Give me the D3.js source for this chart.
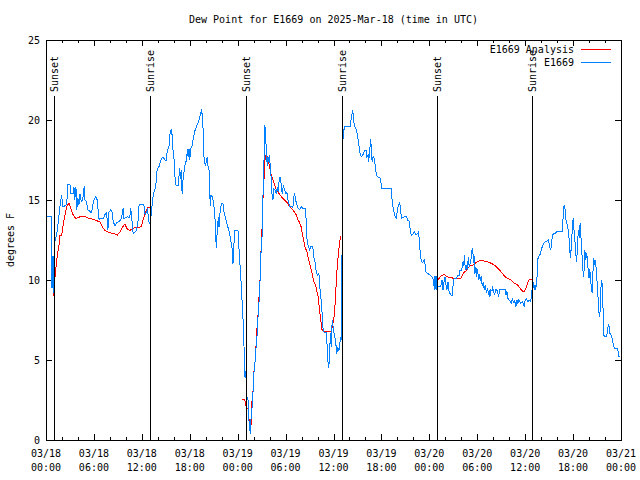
<!DOCTYPE html>
<html><head><meta charset="utf-8">
<script src="https://cdn.jsdelivr.net/npm/d3@7"></script>
<style>
body{margin:0;background:#fff}
text{font-family:"DejaVu Sans Mono",monospace;font-size:10px;fill:#000}
</style>
</head><body><svg id="c" width="640" height="480"></svg>
<script>
const title = "Dew Point for E1669 on 2025-Mar-18 (time in UTC)";
const yLabel = "degrees F";
const seriesNames = ["E1669 Analysis", "E1669"];
const seriesColors = ["#ff0000", "#0080ff"];
const xTickHours = [0, 6, 12, 18, 24, 30, 36, 42, 48, 54, 60, 66, 72];
const xTickDates = ["03/18","03/18","03/18","03/18","03/19","03/19","03/19","03/19","03/20","03/20","03/20","03/20","03/21"];
const xTickTimes = ["00:00","06:00","12:00","18:00","00:00","06:00","12:00","18:00","00:00","06:00","12:00","18:00","00:00"];
const xMinorHours = [2, 4, 8, 10, 14, 16, 20, 22, 26, 28, 32, 34, 38, 40, 44, 46, 50, 52, 56, 58, 62, 64, 68, 70];
const yTicks = [0, 5, 10, 15, 20, 25];
const sunHours = [1.04, 13.04, 25.04, 37.04, 48.91, 60.91];
const sunLabels = ["Sunset", "Sunrise", "Sunset", "Sunrise", "Sunset", "Sunrise"];
const sunLineTop = 21.5;

// E1669 Analysis: [hours since 03/18 00:00 UTC, dew point F]; null = gap
const analysis = [
[0.88,9.0],[1.34,11.25],[1.63,12.2],[1.75,12.8],[1.96,12.8],[2.16,13.5],[2.38,14.06],[2.59,14.6],[2.88,14.8],[3.09,14.5],[3.41,14.06],[3.71,13.85],[4.04,13.9],[4.46,14.0],[4.88,14.0],[5.29,13.85],[5.91,13.8],[6.34,13.7],[6.75,13.65],[7.09,13.3],[7.38,13.1],[7.71,13.0],[8.09,12.95],[8.5,12.9],[8.91,12.8],[9.25,13.0],[9.59,13.3],[9.88,13.5],[10.16,13.2],[10.5,13.1],[10.84,13.2],[11.13,13.3],[11.66,13.3],[11.96,13.35],[12.16,13.75],[12.38,14.06],[12.59,14.4],[12.79,14.54],[13.0,14.54],
[13.0,null],
[24.59,2.56],[24.88,2.56],[25.09,2.0],[25.29,2.0],[25.41,1.35],[25.59,0.94],[25.71,1.0],[25.79,2.4],[25.91,2.9],[26.04,4.27],[26.25,5.2],[26.34,6.45],[26.54,7.7],[26.63,8.75],[26.75,9.27],[26.88,11.25],[26.96,12.3],[27.09,13.65],[27.16,15.0],[27.29,16.25],[27.41,17.5],[27.59,17.9],[27.79,17.5],[28.0,17.1],[28.21,16.56],[28.41,16.25],[28.63,15.94],[28.84,15.6],[29.04,15.5],[29.25,15.35],[29.66,15.1],[30.09,14.9],[30.5,14.6],[30.91,14.4],[31.34,14.06],[31.54,13.75],[31.75,13.6],[31.96,13.3],[32.09,12.9],[32.25,12.5],[32.41,12.1],[32.66,11.77],[32.91,11.25],[33.09,10.9],[33.34,10.4],[33.5,9.9],[33.75,9.7],[33.91,9.27],[34.09,8.96],[34.25,8.1],[34.41,7.5],[34.54,6.9],[34.88,6.8],[35.29,6.77],[35.71,6.77],[35.91,7.2],[36.13,7.9],[36.25,8.96],[36.41,10.4],[36.59,11.56],[36.75,12.3],[36.88,12.75],
[37.0,null],
[48.84,9.9],[49.04,10.0],[49.34,10.17],[49.59,10.3],[49.88,10.35],[50.09,10.25],[50.41,10.17],[50.71,10.17],[51.0,10.1],[51.34,10.1],[51.66,10.1],[51.96,10.1],[52.16,10.3],[52.38,10.5],[52.66,10.6],[52.91,10.8],[53.21,10.9],[53.5,10.95],[53.84,11.08],[54.25,11.2],[54.66,11.2],[54.88,11.18],[55.09,11.15],[55.5,11.1],[55.91,11.0],[56.25,10.9],[56.54,10.75],[56.84,10.6],[57.16,10.4],[57.5,10.2],[57.79,10.1],[58.21,10.0],[58.63,9.8],[59.04,9.7],[59.34,9.5],[59.66,9.3],[59.88,9.3],[60.09,9.5],[60.29,9.8],[60.5,10.0],[60.71,10.05],[60.91,10.05]
];

// E1669 observations: [hours since 03/18 00:00 UTC, dew point F]
const observed = [
[0,14.0],[0.63,14.0],[0.63,13.1],[0.75,9.5],[0.88,11.5],[0.94,9.2],[1.13,12.5],[1.25,12.7],[1.41,13.1],[1.63,14.06],[1.75,14.6],[1.96,15.3],[2.09,14.6],[2.25,14.6],[2.59,14.7],[2.75,16.0],[3.0,16.0],[3.04,15.4],[3.41,15.4],[3.5,15.8],[3.59,15.0],[3.75,15.8],[3.84,14.4],[4.0,15.1],[4.13,14.7],[4.25,15.4],[4.41,14.9],[4.59,15.0],[4.79,15.9],[4.88,15.0],[5.09,14.9],[5.21,14.4],[5.71,14.2],[5.79,14.5],[6.0,15.0],[6.25,15.2],[6.41,15.0],[6.54,14.3],[6.66,13.75],[6.84,13.85],[7.25,13.85],[7.29,14.06],[7.59,14.2],[7.75,13.1],[7.84,14.2],[8.13,14.4],[8.29,14.2],[8.41,13.65],[8.63,13.4],[8.91,13.6],[9.25,13.7],[9.46,13.85],[9.66,14.5],[9.75,13.85],[10.16,13.95],[10.5,13.9],[10.59,14.5],[10.71,14.06],[10.91,12.9],[11.34,13.1],[11.54,13.75],[11.66,14.7],[12.25,14.7],[12.41,14.06],[12.71,14.4],[12.91,13.6],[13.0,13.55],[13.21,14.2],[13.34,15.0],[13.5,15.5],[13.63,15.6],[13.84,16.3],[13.91,16.9],[14.16,17.1],[14.34,17.4],[14.5,17.6],[14.66,17.7],[14.88,17.5],[15.09,17.45],[15.16,18.0],[15.41,18.4],[15.5,19.06],[15.66,19.4],[15.79,19.06],[15.91,18.1],[16.04,17.5],[16.16,16.4],[16.29,15.9],[16.54,15.9],[16.63,16.35],[16.75,17.0],[16.84,16.3],[16.96,16.9],[17.04,15.4],[17.16,16.3],[17.29,16.8],[17.41,17.2],[17.59,17.5],[17.71,18.2],[17.79,17.7],[17.91,18.2],[18.0,17.5],[18.13,18.2],[18.29,18.4],[18.41,18.75],[18.63,19.3],[18.84,19.6],[19.04,19.8],[19.16,20.0],[19.34,20.4],[19.46,20.56],[19.59,20.3],[19.66,19.5],[19.75,17.8],[19.96,17.1],[20.09,17.5],[20.21,17.7],[20.29,17.1],[20.41,16.9],[20.5,15.4],[20.59,14.6],[20.66,15.3],[20.84,15.2],[21.0,14.8],[21.16,13.85],[21.25,12.7],[21.34,12.0],[21.46,13.3],[21.59,13.95],[21.66,13.3],[21.84,14.5],[22.0,14.8],[22.16,14.8],[22.25,14.3],[22.5,13.85],[22.66,13.5],[22.84,13.2],[23.0,12.9],[23.13,12.5],[23.29,12.0],[23.41,11.0],[23.54,12.3],[23.66,13.1],[24.04,13.1],[24.16,12.0],[24.41,10.0],[24.66,7.7],[24.79,6.0],[24.84,4.4],[24.91,3.95],[25.0,4.3],[25.09,3.5],[25.16,2.7],[25.29,2.6],[25.34,1.8],[25.41,1.25],[25.5,0.73],[25.59,0.4],[25.66,1.25],[25.75,1.67],[25.84,2.3],[25.91,2.9],[26.04,4.2],[26.21,5.1],[26.34,6.05],[26.46,6.7],[26.54,7.6],[26.66,8.5],[26.75,9.4],[26.88,10.8],[26.96,12.5],[27.04,12.5],[27.16,15.0],[27.25,16.7],[27.34,18.1],[27.41,19.7],[27.5,18.95],[27.59,18.1],[27.71,17.1],[27.79,17.7],[27.88,17.4],[28.0,17.8],[28.09,16.9],[28.21,16.35],[28.29,15.4],[28.41,15.0],[28.54,15.7],[28.71,15.6],[28.84,15.4],[28.96,15.8],[29.09,15.5],[29.21,16.4],[29.38,16.4],[29.46,15.8],[29.59,15.4],[29.71,15.9],[29.88,15.6],[30.04,15.4],[30.16,15.5],[30.34,14.9],[30.5,14.6],[30.71,14.6],[30.91,14.5],[31.09,15.4],[31.21,15.2],[31.34,14.8],[31.54,14.5],[31.75,14.4],[31.96,14.6],[32.09,14.5],[32.5,14.5],[32.59,13.5],[32.71,12.3],[32.91,12.1],[33.0,11.8],[33.13,12.1],[33.29,12.1],[33.41,12.1],[33.5,11.45],[33.66,11.25],[33.75,10.8],[33.91,10.4],[34.04,10.3],[34.16,10.4],[34.25,10.0],[34.34,9.2],[34.46,8.75],[34.59,7.8],[34.71,6.8],[34.91,6.7],[35.09,6.7],[35.16,6.25],[35.29,5.0],[35.41,4.5],[35.5,5.4],[35.63,6.7],[35.71,5.8],[35.84,7.5],[36.0,6.9],[36.13,6.45],[36.25,6.25],[36.41,5.4],[36.54,5.8],[36.66,5.6],[36.75,5.75],[36.88,6.45],[37.0,6.25],[37.06,9.5],[37.09,18.2],[37.25,19.2],[37.38,19.6],[38.09,19.6],[38.16,19.9],[38.29,20.3],[38.41,20.6],[38.5,20.1],[38.63,19.6],[38.84,19.4],[39.0,19.06],[39.16,18.5],[39.34,17.9],[39.46,17.7],[39.66,17.8],[39.88,18.1],[40.09,18.1],[40.16,17.7],[40.34,17.8],[40.41,17.4],[40.54,18.1],[40.66,18.8],[40.75,18.1],[40.84,17.4],[40.96,17.7],[41.09,17.6],[41.16,17.5],[41.25,16.9],[41.46,16.45],[41.75,16.4],[41.88,16.35],[42.04,15.7],[43.21,15.7],[43.34,15.0],[43.5,14.4],[43.66,14.06],[43.84,13.85],[43.96,14.2],[44.13,14.7],[44.25,14.8],[44.38,14.6],[44.5,13.85],[44.66,13.9],[44.84,13.95],[45.16,13.95],[45.29,13.75],[45.5,13.65],[45.63,13.0],[45.75,12.8],[46.0,12.9],[46.13,13.0],[46.34,12.8],[46.54,12.9],[46.66,13.0],[46.75,12.4],[46.88,11.56],[47.0,11.15],[47.16,11.1],[47.38,11.25],[47.5,10.9],[47.59,10.5],[48.09,10.3],[48.34,10.2],[48.5,10.0],[48.63,9.4],[48.71,10.25],[48.84,9.4],[48.91,10.25],[49.04,9.6],[49.34,9.6],[49.46,9.7],[49.59,10.0],[49.71,9.4],[49.84,9.9],[49.96,10.2],[50.09,9.7],[50.21,9.4],[50.34,9.9],[50.41,9.4],[50.54,9.2],[50.71,9.06],[50.88,9.06],[51.0,9.9],[51.13,10.1],[51.41,10.1],[51.54,10.3],[51.75,10.3],[51.84,10.6],[52.0,10.6],[52.16,10.9],[52.25,11.2],[52.34,10.9],[52.41,11.56],[52.5,10.6],[52.63,10.9],[52.75,10.6],[52.88,11.45],[53.0,10.8],[53.13,11.1],[53.21,11.25],[53.29,11.7],[53.38,12.0],[53.46,11.7],[53.54,11.05],[53.63,11.5],[53.71,10.4],[53.84,10.8],[53.91,10.2],[54.04,10.7],[54.16,10.0],[54.25,10.4],[54.38,9.95],[54.5,10.25],[54.63,9.6],[54.75,9.9],[54.88,9.4],[55.0,9.7],[55.16,9.2],[55.29,9.5],[55.41,9.06],[55.5,9.4],[55.59,8.96],[55.71,9.4],[55.84,9.3],[55.91,9.6],[56.04,9.3],[56.16,9.06],[56.34,9.4],[56.54,9.3],[56.66,8.96],[56.84,9.4],[57.5,9.4],[57.59,9.06],[57.71,9.3],[57.84,8.85],[58.0,8.75],[58.13,8.65],[58.25,8.54],[58.41,8.85],[58.54,8.54],[58.66,8.75],[58.84,8.33],[58.96,8.75],[59.09,8.54],[59.21,8.75],[59.46,8.54],[59.66,8.65],[59.88,8.33],[60.0,8.75],[60.16,8.85],[60.34,8.65],[60.5,8.75],[60.63,8.65],[60.75,8.85],[60.84,9.27],[60.91,9.6],[61.0,9.9],[61.13,9.4],[61.25,9.7],[61.34,9.4],[61.41,10.1],[61.54,10.3],[61.56,11.25],[61.66,11.45],[61.84,11.56],[61.96,11.77],[62.09,12.0],[62.25,12.2],[62.38,12.33],[62.59,12.4],[62.79,12.45],[62.91,12.5],[63.0,12.3],[63.09,12.0],[63.21,11.9],[63.29,12.2],[63.41,12.8],[63.63,12.9],[63.84,12.95],[64.04,13.06],[64.66,13.06],[64.71,13.54],[64.79,14.27],[64.88,14.7],[65.0,14.4],[65.09,13.8],[65.21,13.54],[65.34,13.3],[65.41,12.9],[65.5,12.6],[65.59,11.9],[65.66,11.35],[65.75,11.9],[65.84,12.7],[65.91,13.1],[66.0,13.85],[66.09,13.3],[66.16,12.85],[66.25,12.3],[66.34,11.77],[66.41,11.15],[66.5,11.6],[66.59,12.5],[66.66,13.1],[66.79,12.6],[66.88,13.54],[66.96,12.9],[67.04,12.2],[67.16,11.25],[67.29,10.2],[67.38,10.6],[67.46,11.9],[67.59,11.25],[67.71,11.7],[67.84,10.9],[67.91,10.6],[68.0,10.1],[68.09,10.7],[68.21,10.0],[68.29,9.5],[68.38,9.2],[68.46,9.9],[68.54,11.35],[68.63,11.25],[68.71,11.05],[68.79,11.15],[68.88,10.8],[68.96,10.2],[69.04,9.6],[69.13,8.85],[69.21,8.1],[69.29,7.7],[69.38,8.0],[69.46,9.2],[69.54,10.0],[69.63,9.8],[69.71,8.96],[69.79,7.5],[69.88,6.45],[70.16,6.45],[70.29,6.67],[70.41,7.2],[70.5,7.1],[70.59,6.67],[70.71,6.6],[70.84,6.45],[70.91,6.25],[71.04,5.94],[71.16,5.73],[71.59,5.73],[71.66,5.4],[71.75,5.2],[71.84,5.2]
];

const svg = d3.select("#c");
const L = 46, R = 621, T = 40, B = 440;
const x = d3.scaleLinear().domain([0, 72]).range([L, R]);
const y = d3.scaleLinear().domain([0, 25]).range([B, T]);

svg.append("rect").attr("width", 640).attr("height", 480).attr("fill", "#fff");

// title
svg.append("text").attr("x", (L + R) / 2).attr("y", 23).attr("text-anchor", "middle").text(title);

// y label
svg.append("text").attr("transform", `translate(14,${(T + B) / 2}) rotate(-90)`)
  .attr("text-anchor", "middle").text(yLabel);

function styleAxis(g) {
  g.select(".domain").remove();
  g.selectAll("line").attr("stroke", "#000").attr("shape-rendering", "crispEdges");
}

// x axes (bottom & top), major and minor
svg.append("g").attr("transform", `translate(0,${B})`)
  .call(d3.axisBottom(x).tickValues(xTickHours).tickSize(-6).tickFormat(""))
  .call(styleAxis);
svg.append("g").attr("transform", `translate(0,${B})`)
  .call(d3.axisBottom(x).tickValues(xMinorHours).tickSize(-3).tickFormat(""))
  .call(styleAxis);
svg.append("g").attr("transform", `translate(0,${T})`)
  .call(d3.axisTop(x).tickValues(xTickHours).tickSize(-6).tickFormat(""))
  .call(styleAxis);
svg.append("g").attr("transform", `translate(0,${T})`)
  .call(d3.axisTop(x).tickValues(xMinorHours).tickSize(-3).tickFormat(""))
  .call(styleAxis);

// x tick labels (two lines)
const xl = svg.append("g");
xTickHours.forEach((h, i) => {
  const t = xl.append("text").attr("text-anchor", "middle");
  t.append("tspan").attr("x", x(h)).attr("y", 457).text(xTickDates[i]);
  t.append("tspan").attr("x", x(h)).attr("y", 471).text(xTickTimes[i]);
});

// y axes
svg.append("g").attr("transform", `translate(${L},0)`)
  .call(d3.axisLeft(y).tickValues(yTicks).tickSize(-6).tickPadding(6).tickFormat(d3.format("d")))
  .call(styleAxis);
svg.append("g").attr("transform", `translate(${R},0)`)
  .call(d3.axisRight(y).tickValues(yTicks).tickSize(-6).tickFormat(""))
  .call(styleAxis);

// data lines (aliased, like the original bitmap renderer)
const line = d3.line().defined(d => d[1] !== null).x(d => x(d[0])).y(d => y(d[1]));
svg.append("path").datum(analysis).attr("d", line)
  .attr("fill", "none").attr("stroke", seriesColors[0]).attr("stroke-width", 1)
  .attr("shape-rendering", "crispEdges");
svg.append("path").datum(observed).attr("d", line)
  .attr("fill", "none").attr("stroke", seriesColors[1]).attr("stroke-width", 1)
  .attr("shape-rendering", "crispEdges");

// sunrise / sunset markers
const sg = svg.append("g");
sunHours.forEach((h, i) => {
  const px = Math.round(x(h)) + 0.5;
  sg.append("line").attr("x1", px).attr("x2", px).attr("y1", y(0)).attr("y2", y(sunLineTop))
    .attr("stroke", "#000").attr("stroke-width", 1).attr("shape-rendering", "crispEdges");
  sg.append("text").attr("transform", `translate(${px + 3.5},${y(sunLineTop) - 4}) rotate(-90)`)
    .attr("text-anchor", "start").text(sunLabels[i]);
});

// frame
svg.append("rect").attr("x", L + 0.5).attr("y", T + 0.5).attr("width", R - L).attr("height", B - T)
  .attr("fill", "none").attr("stroke", "#000").attr("stroke-width", 1).attr("shape-rendering", "crispEdges");

// legend
const lg = svg.append("g");
seriesNames.forEach((n, i) => {
  const yy = 49 + i * 13;
  lg.append("text").attr("x", 574).attr("y", yy + 4).attr("text-anchor", "end").text(n);
  lg.append("line").attr("x1", 581).attr("x2", 611).attr("y1", yy + 0.5).attr("y2", yy + 0.5)
    .attr("stroke", seriesColors[i]).attr("stroke-width", 1).attr("shape-rendering", "crispEdges");
});
</script>
</body></html>
